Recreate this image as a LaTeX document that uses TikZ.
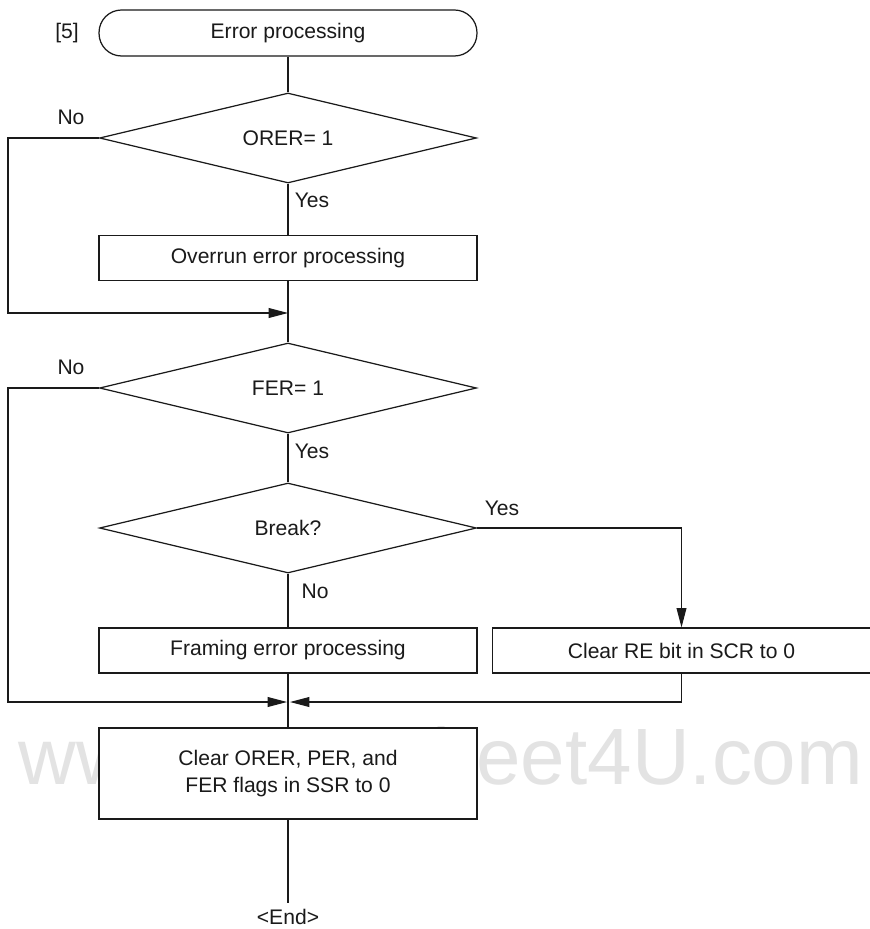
\documentclass[tikz,border=0pt]{standalone}
\usepackage{fontspec}
\setmainfont{Liberation Sans}
\usetikzlibrary{arrows.meta,calc,positioning,shapes.geometric}
\definecolor{Paper}{HTML}{FFFFFF}
\definecolor{Ink}{HTML}{1A1A1A}
\definecolor{Mark}{HTML}{E3E3E3}

\begin{document}
\begin{tikzpicture}[x=0.02cm,y=-0.02cm,every node/.style={font=\fontsize{12}{15.4}\selectfont,text=Ink},line/.style={line width=0.6pt,draw=Ink},arrow/.style={-{Triangle[length=11pt,width=5.6pt]},line width=0.6pt,draw=Ink},procbox/.style={draw=Ink,fill=Paper,line width=0.7pt,minimum width=7.56cm,minimum height=0.9cm,inner sep=0pt},decision/.style={diamond,aspect=4.2,draw=Ink,fill=Paper,line width=0.7pt,minimum width=7.54cm,minimum height=1.8cm,inner sep=0pt},terminal/.style={draw=Ink,fill=Paper,line width=0.7pt,rounded corners=0.45cm,minimum width=7.56cm,minimum height=0.92cm}]
\useasboundingbox[fill=Paper] (0,0) rectangle (869,929);

\node[font=\fontsize{45.5}{50}\selectfont,text=Mark,anchor=base,inner sep=0pt] (mark) at (441,784) {www.DataSheet4U.com};
\node[terminal] (start) at (288,33) {Error processing};
\node (tag) at (67,33) {[5]};
\node[decision] (orer) at (288,138) {ORER= 1};
\node[procbox] (overrun) at (288,258) {Overrun error processing};
\node[decision] (fer) at (288,388) {FER= 1};
\node[decision] (brk) at (288,528) {Break?};
\node[procbox] (framing) at (288,650.5) {Framing error processing};
\node[procbox] (clrre) at (681.5,650.5) {Clear RE bit in SCR to 0};
\node[procbox,minimum height=1.82cm,align=center] (clrflags) at (288,773.5) {Clear ORER, PER, and\\FER flags in SSR to 0};
\node (finish) at (288,917) {<End>};

\node (orerno) at (71,117) {No};
\node (oreryes) at (312,200) {Yes};
\node (ferno) at (71,367) {No};
\node (feryes) at (312,451) {Yes};
\node (brkyes) at (502,508) {Yes};
\node (brkno) at (315,591) {No};

\coordinate (join1) at (288,313);
\coordinate (join2l) at (287,702);
\coordinate (join2r) at (290,702);
\coordinate (edge1) at (8,138);
\coordinate (edge2) at (8,388);

\draw[line] (start) -- (orer);
\draw[line] (orer) -- (overrun);
\draw[line] (overrun) -- (fer);
\draw[arrow] (orer.west) -- (edge1) |- (join1);
\draw[line] (fer) -- (brk);
\draw[line] (brk) -- (framing);
\draw[arrow] (brk.east) -| (clrre.north);
\draw[arrow] (fer.west) -- (edge2) |- (join2l);
\draw[arrow] (clrre.south) |- (join2r);
\draw[line] (framing) -- (clrflags);
\draw[line] (clrflags) -- (finish);

\end{tikzpicture}
\end{document}
